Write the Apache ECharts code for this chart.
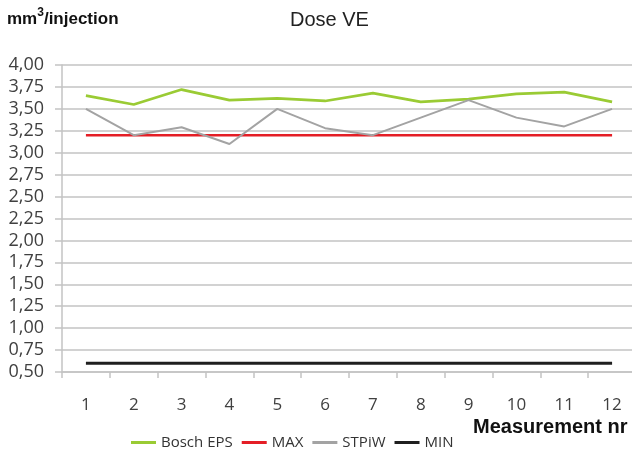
<!DOCTYPE html>
<html>
<head>
<meta charset="utf-8">
<script src="https://cdn.jsdelivr.net/npm/echarts@6/dist/echarts.min.js"></script>
<style>
html,body{margin:0;padding:0;background:#fff;}
#chart{width:632px;height:452px;}
</style>
</head>
<body>
<div id="chart"></div>
<script>
var categories = ['1','2','3','4','5','6','7','8','9','10','11','12'];
var boschEPS = [3.65, 3.55, 3.72, 3.60, 3.62, 3.59, 3.68, 3.58, 3.61, 3.67, 3.69, 3.58];
var maxLimit = [3.20, 3.20, 3.20, 3.20, 3.20, 3.20, 3.20, 3.20, 3.20, 3.20, 3.20, 3.20];
var stpiw = [3.50, 3.20, 3.29, 3.10, 3.50, 3.28, 3.20, 3.40, 3.60, 3.40, 3.30, 3.50];
var minLimit = [0.60, 0.60, 0.60, 0.60, 0.60, 0.60, 0.60, 0.60, 0.60, 0.60, 0.60, 0.60];
var seriesNames = ['Bosch EPS', 'MAX', 'STPiW', 'MIN'];
var yMin = 0.5, yMax = 4.0, yStep = 0.25;

var chart = echarts.init(document.getElementById('chart'), null, {renderer: 'canvas'});
var gridColor = '#c3c3c3';
var option = {
  backgroundColor: '#ffffff',
  animation: false,
  title: [
    {
      text: 'Dose VE', left: 285, top: 5,
      textStyle: {fontFamily: 'Liberation Sans', fontSize: 20, fontWeight: 'normal', color: '#222', lineHeight: 20}
    },
    {
      text: '{a|mm}{b|3}{a|/injection}', left: 2, top: 2,
      textStyle: {
        rich: {
          a: {fontFamily: 'Liberation Sans', fontSize: 17, fontWeight: 'bold', color: '#111', lineHeight: 24},
          b: {fontFamily: 'Liberation Sans', fontSize: 12, fontWeight: 'bold', color: '#111', lineHeight: 12, verticalAlign: 'top'}
        }
      }
    },
    {
      text: 'Measurement nr', left: 468, top: 412,
      textStyle: {fontFamily: 'Liberation Sans', fontSize: 20, fontWeight: 'bold', color: '#111', lineHeight: 20}
    }
  ],
  legend: {
    data: seriesNames,
    left: 126, top: 430,
    icon: 'rect',
    itemWidth: 25, itemHeight: 3, itemGap: 9,
    textStyle: {fontFamily: 'Open Sans', fontSize: 15, color: '#333'}
  },
  grid: {left: 62, right: -4, top: 65, bottom: 80, outerBoundsMode: 'none', containLabel: false},
  xAxis: {
    type: 'category',
    data: categories,
    boundaryGap: true,
    axisLine: {lineStyle: {color: gridColor, width: 1.5}},
    axisTick: {show: true, alignWithLabel: false, length: 6, lineStyle: {color: gridColor, width: 1.5}},
    axisLabel: {margin: 25, fontFamily: 'Open Sans', fontSize: 17, color: '#404040'},
    splitLine: {show: false}
  },
  yAxis: {
    type: 'value',
    min: yMin, max: yMax, interval: yStep,
    axisLine: {show: true, lineStyle: {color: gridColor, width: 1.5}},
    axisTick: {show: true, length: 7, lineStyle: {color: gridColor, width: 1.5}},
    axisLabel: {
      margin: 18, fontFamily: 'Open Sans', fontSize: 18, color: '#404040',
      formatter: function (v) { return v.toFixed(2).replace('.', ','); }
    },
    splitLine: {show: true, lineStyle: {color: gridColor, width: 1.5}}
  },
  series: [
    {name: seriesNames[0], type: 'line', data: boschEPS, symbol: 'none', lineStyle: {color: '#9acb34', width: 2.7}, itemStyle: {color: '#9acb34'}},
    {name: seriesNames[1], type: 'line', data: maxLimit, symbol: 'none', lineStyle: {color: '#e41e26', width: 2.5}, itemStyle: {color: '#e41e26'}},
    {name: seriesNames[2], type: 'line', data: stpiw, symbol: 'none', lineStyle: {color: '#a3a3a3', width: 2}, itemStyle: {color: '#a3a3a3'}},
    {name: seriesNames[3], type: 'line', data: minLimit, symbol: 'none', lineStyle: {color: '#1f1f1f', width: 3}, itemStyle: {color: '#1f1f1f'}}
  ]
};
chart.setOption(option);
</script>
</body>
</html>
